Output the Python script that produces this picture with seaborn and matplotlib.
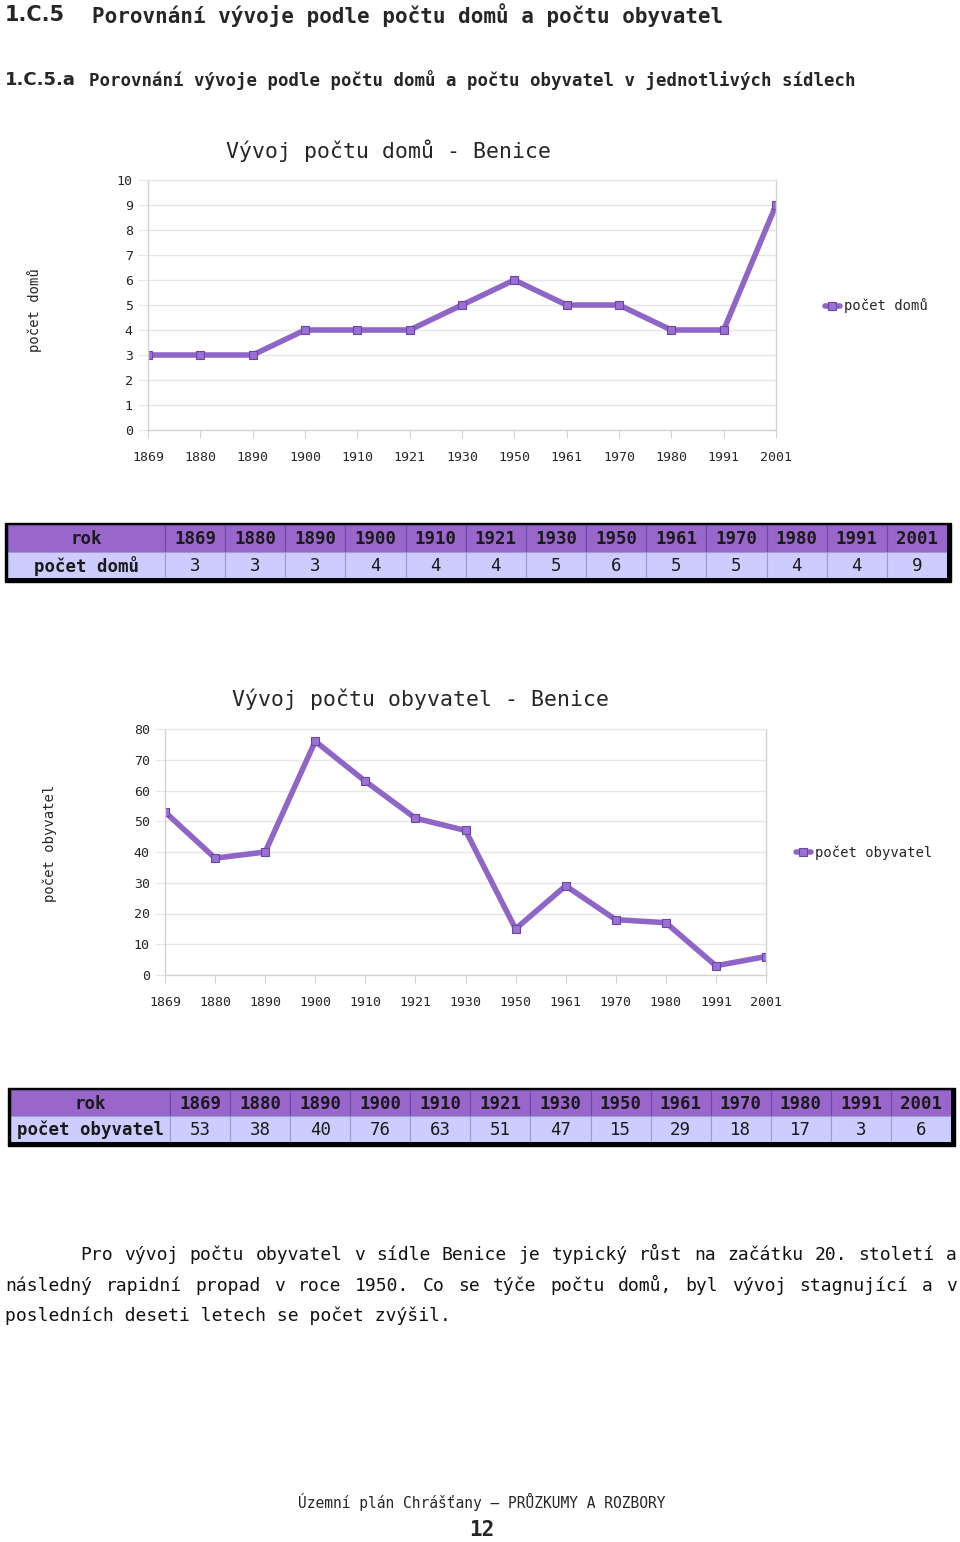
import matplotlib
matplotlib.use('Agg')

import matplotlib.pyplot as plt
import pandas as pd
import seaborn as sns
from matplotlib.patches import Rectangle

# data
years = ['1869', '1880', '1890', '1900', '1910', '1921', '1930',
         '1950', '1961', '1970', '1980', '1991', '2001']
houses = [3, 3, 3, 4, 4, 4, 5, 6, 5, 5, 4, 4, 9]
people = [53, 38, 40, 76, 63, 51, 47, 15, 29, 18, 17, 3, 6]

W, H = 960, 1542
LINE = '#9065c8'
MFACE = '#9a70d2'
MEDGE = '#6b45a6'
HEAD_BG = '#9966cc'
ROW_BG = '#ccccff'
GRID = '#e6e6e6'
AXIS = '#d2d2d2'
MONO = ['DejaVu Sans Mono', 'DejaVu Sans']

sns.set_style('white')
plt.rcParams['font.family'] = MONO

fig = plt.figure(figsize=(W / 100, H / 100), dpi=100)


def fy(y):
    return 1 - y / H


def line_chart(rect, values, ylabel, ymax, step, title, title_xy, ylab_xy, leg_xy):
    left, top, right, bottom = rect
    ax = fig.add_axes([left / W, fy(bottom), (right - left) / W, (bottom - top) / H])
    df = pd.DataFrame({'rok': years, ylabel: values})
    sns.lineplot(data=df, x='rok', y=ylabel, ax=ax, color=LINE, lw=4,
                 marker='s', markersize=5.5, markerfacecolor=MFACE,
                 markeredgecolor=MEDGE, markeredgewidth=0.8, label=ylabel, sort=False)
    ax.set_xlim(0, len(years) - 1)
    ax.set_ylim(0, ymax)
    ax.set_yticks(range(0, ymax + 1, step))
    ax.grid(axis='y', color=GRID, lw=1)
    ax.set_axisbelow(True)
    for s in ax.spines.values():
        s.set_color(AXIS)
        s.set_linewidth(1)
    ax.spines['top'].set_color(GRID)
    ax.tick_params(axis='y', length=7, color=GRID, pad=4, labelsize=9.5, left=True)
    ax.tick_params(axis='x', length=6, color=AXIS, pad=9, labelsize=9.5, bottom=True)
    ax.set_xlabel('')
    ax.set_ylabel(ylabel, fontsize=10)
    ax.yaxis.set_label_coords((ylab_xy[0] - left) / (right - left),
                              (bottom - ylab_xy[1]) / (bottom - top))
    ax.text((title_xy[0] - left) / (right - left), (bottom - title_xy[1]) / (bottom - top),
            title, transform=ax.transAxes, ha='center', va='center', fontsize=15.5)
    ax.legend(loc='center left', bbox_to_anchor=(leg_xy[0] / W, fy(leg_xy[1])),
              bbox_transform=fig.transFigure, frameon=False, fontsize=10,
              handlelength=1.1, handletextpad=0.3)
    return ax


def draw_table(x0, x1, first_w, y_top, row_h, row_label, values):
    tw, th = x1 - x0, 2 * row_h
    ax = fig.add_axes([x0 / W, fy(y_top + th), tw / W, th / H])
    ax.set_xlim(0, tw)
    ax.set_ylim(th, 0)
    ax.axis('off')
    ax.add_patch(Rectangle((-3, -2), tw + 7, th + 6, color='black', zorder=0, clip_on=False))
    colw = (tw - first_w) / len(values)
    edges = [0, first_w] + [first_w + colw * (i + 1) for i in range(len(values))]
    rows = [(['rok'] + years, HEAD_BG, '#6f49a3'),
            ([row_label] + [str(v) for v in values], ROW_BG, '#9a9ad0')]
    for r, (labels, bg, sep) in enumerate(rows):
        y = r * row_h
        for c, lab in enumerate(labels):
            ax.add_patch(Rectangle((edges[c], y), edges[c + 1] - edges[c], row_h,
                                   facecolor=bg, edgecolor=sep, lw=0.8, zorder=1))
            ax.text((edges[c] + edges[c + 1]) / 2, y + row_h / 2 + 1, lab,
                    ha='center', va='center', fontsize=12.5, color='#1a1a1a',
                    fontweight='bold' if (r == 0 or c == 0) else 'normal', zorder=2)


def justified(words, x0, x1, y, **kw):
    texts = [fig.text(0, fy(y), w, va='center', **kw) for w in words]
    r = fig.canvas.get_renderer()
    widths = [t.get_window_extent(r).width for t in texts]
    gap = (x1 - x0 - sum(widths)) / (len(words) - 1)
    x = x0
    for t, w in zip(texts, widths):
        t.set_x(x / W)
        x += w + gap


# headings
fig.text(5 / W, fy(15), '1.C.5', fontsize=15, fontweight='bold', va='center',
         family=['DejaVu Sans'])
fig.text(92 / W, fy(15), 'Porovnání vývoje podle počtu domů a počtu obyvatel',
         fontsize=15, fontweight='bold', va='center')
fig.text(5 / W, fy(80), '1.C.5.a', fontsize=13, fontweight='bold', va='center',
         family=['DejaVu Sans'])
fig.text(89 / W, fy(80), 'Porovnání vývoje podle počtu domů a počtu obyvatel v jednotlivých sídlech',
         fontsize=12.5, fontweight='bold', va='center')

# charts
line_chart((148, 180, 776, 430), houses, 'počet domů', 10, 1,
           'Vývoj počtu domů - Benice', (388, 151), (42, 310), (812, 306))
line_chart((165, 729, 766, 975), people, 'počet obyvatel', 80, 10,
           'Vývoj počtu obyvatel - Benice', (420, 699), (57, 843), (783, 853))

# tables
draw_table(8, 947, 157, 525, 26.5, 'počet domů', houses)
draw_table(11, 951, 159, 1090, 26, 'počet obyvatel', people)

# paragraph
para = dict(fontsize=13, color='#111111')
justified('Pro vývoj počtu obyvatel v sídle Benice je typický růst na začátku 20. století a'.split(),
          80, 957, 1255, **para)
justified('následný rapidní propad v roce 1950. Co se týče počtu domů, byl vývoj stagnující a v'.split(),
          5, 957, 1286, **para)
fig.text(5 / W, fy(1316), 'posledních deseti letech se počet zvýšil.', va='center', **para)

# footer
fig.text(482 / W, fy(1502), 'Územní plán Chrášťany – PRŮZKUMY A ROZBORY',
         ha='center', va='center', fontsize=10.5)
fig.text(482 / W, fy(1530), '12', ha='center', va='center', fontsize=15, fontweight='bold')

fig.savefig('out.png', dpi=100)
plt.close(fig)
